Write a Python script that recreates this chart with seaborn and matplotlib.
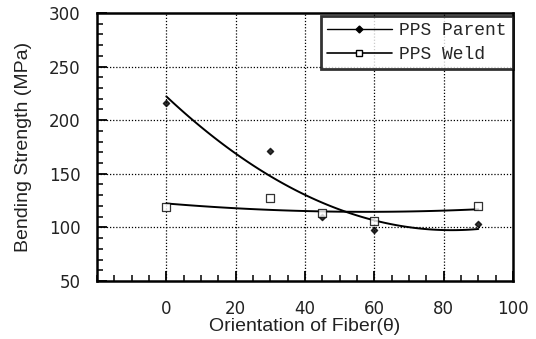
import numpy as np
import pandas as pd
import matplotlib
matplotlib.use("Agg")
import matplotlib.pyplot as plt
from matplotlib.ticker import MultipleLocator
from matplotlib.lines import Line2D
import seaborn as sns

angles = [0, 30, 45, 60, 90]
parent = [216, 171, 110, 98, 103]
weld = [119, 127, 113, 106, 120]
xticks = [0, 20, 40, 60, 80, 100]

sns.set_theme(style="white")
plt.rcParams['font.family'] = ['DejaVu Sans']

fig = plt.figure(figsize=(5.36, 3.39), dpi=100)
ax = fig.add_axes([0.181, 0.171, 0.776, 0.791])

df_p = pd.DataFrame({"x": angles, "y": parent})
df_w = pd.DataFrame({"x": angles, "y": weld})

sns.regplot(data=df_p, x="x", y="y", order=2, ci=None, ax=ax, marker="D",
            scatter_kws=dict(s=10, color="black", zorder=4),
            line_kws=dict(color="black", lw=1.4, zorder=3), truncate=True)
sns.regplot(data=df_w, x="x", y="y", order=2, ci=None, ax=ax, marker="s",
            scatter_kws=dict(s=26, facecolors="white", edgecolors="black",
                             color="black", linewidths=0.9, zorder=5),
            line_kws=dict(color="black", lw=1.4, zorder=3), truncate=True)

ax.set_xlim(-20, 100)
ax.set_ylim(50, 300)
ax.xaxis.set_major_locator(MultipleLocator(20))
ax.xaxis.set_minor_locator(MultipleLocator(5))
ax.yaxis.set_major_locator(MultipleLocator(50))
ax.yaxis.set_minor_locator(MultipleLocator(10))

for gx in [0, 20, 40, 60, 80]:
    ax.axvline(gx, color="black", ls=(0, (1, 1.5)), lw=0.9, zorder=1)
for gy in [100, 150, 200, 250]:
    ax.axhline(gy, color="black", ls=(0, (1, 1.5)), lw=0.9, zorder=1)

ax.set_xticks(xticks)
ax.set_xticklabels([str(v) for v in xticks])
ax.tick_params(axis="both", which="major", direction="in", length=7, width=1.3,
               labelsize=12, color="black", labelcolor="#222222")
ax.tick_params(axis="both", which="minor", direction="in", length=4, width=1.1,
               color="black")
ax.tick_params(axis="y", which="both", right=False, left=True)
ax.tick_params(axis="y", which="major", pad=12)
ax.tick_params(axis="x", which="both", bottom=True, top=False)
ax.tick_params(axis="x", which="major", pad=14)

for s in ax.spines.values():
    s.set_color("black")
    s.set_linewidth(1.8)
    s.set_visible(True)

ax.set_xlabel("Orientation of Fiber(θ)", fontsize=14, family=["Liberation Sans", "DejaVu Sans"],
              color="#222222", labelpad=0)
ax.set_ylabel("Bending Strength (MPa)", fontsize=14, family=["Liberation Sans"],
              color="#222222", labelpad=12)

handles = [
    Line2D([], [], color="black", lw=1.0, marker="D", markersize=3.5,
           markerfacecolor="black"),
    Line2D([], [], color="black", lw=1.2, marker="s", markersize=5,
           markerfacecolor="white", markeredgecolor="black"),
]
leg = ax.legend(handles, ["PPS Parent", "PPS Weld"], loc="upper right",
                bbox_to_anchor=(1.0, 0.99), prop=dict(family="Liberation Mono", size=13),
                frameon=True, fancybox=False, shadow=False, borderpad=0.35,
                handlelength=3.6, handletextpad=0.4, labelspacing=0.4,
                borderaxespad=0.0)
leg.get_frame().set_edgecolor("black")
leg.get_frame().set_linewidth(2.0)

fig.savefig("out.png", dpi=100)
